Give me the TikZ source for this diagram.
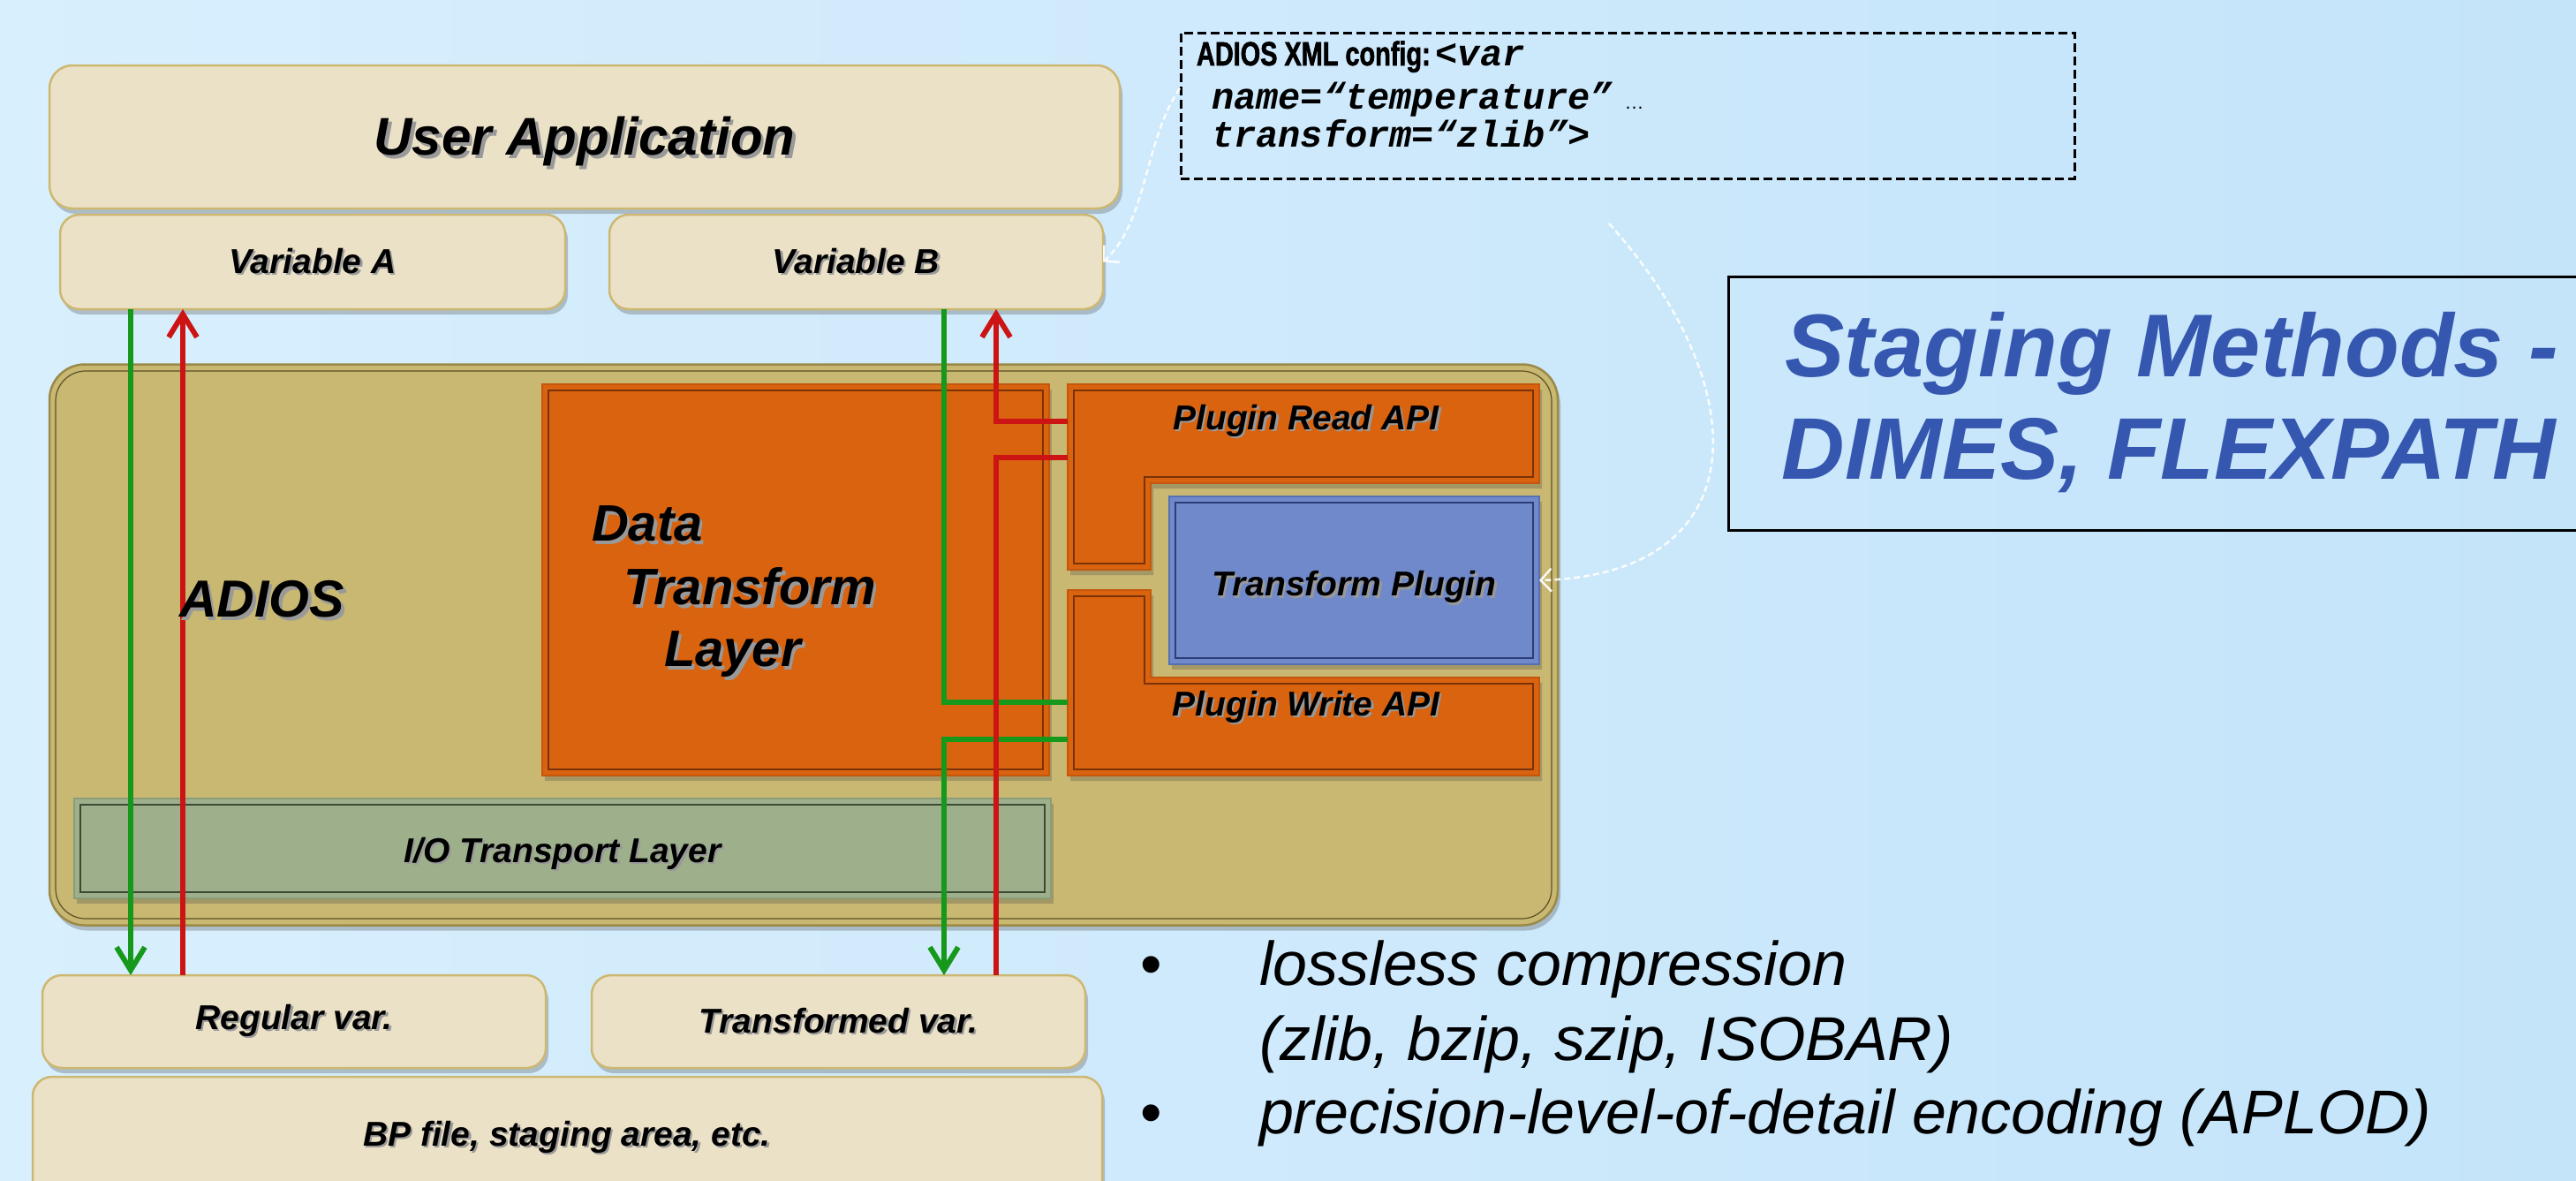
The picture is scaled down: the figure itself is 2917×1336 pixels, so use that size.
\documentclass[tikz,border=0pt]{standalone}
\usepackage{fontspec}
\setmainfont{Liberation Sans}
\setmonofont{Liberation Mono}
\newfontfamily\narrowbold[FakeStretch=0.76, FakeBold=1.6]{Liberation Sans Bold}
\usetikzlibrary{shadows,arrows.meta,calc}

\definecolor{bgL}{HTML}{D8EFFD}
\definecolor{bgR}{HTML}{C4E4FA}
\definecolor{tanF}{HTML}{EBE1C7}
\definecolor{tanD}{HTML}{CDB872}
\definecolor{adF}{HTML}{C9B872}
\definecolor{adD}{HTML}{5A5025}
\definecolor{adO}{HTML}{9A8A48}
\definecolor{orF}{HTML}{D9630F}
\definecolor{orD}{HTML}{7A3206}
\definecolor{orO}{HTML}{C4570C}
\definecolor{blF}{HTML}{6F89CB}
\definecolor{blD}{HTML}{2C3E78}
\definecolor{blO}{HTML}{5570B0}
\definecolor{ioF}{HTML}{9DB08B}
\definecolor{ioD}{HTML}{3C4A32}
\definecolor{ioO}{HTML}{8A9C78}
\definecolor{grn}{HTML}{16991A}
\definecolor{rdc}{HTML}{CC1414}
\definecolor{stg}{HTML}{3557B0}

\newcommand\shd[1]{\makebox[0pt][l]{\hspace{0.06em}\raisebox{-0.07em}{\color{black!40}#1}}#1}
\newcommand\ftitle{\fontsize{60}{72}\selectfont\bfseries\itshape}
\newcommand\flbl{\fontsize{39}{47}\selectfont\bfseries\itshape}
\newcommand\fdtl{\fontsize{58}{70}\selectfont\bfseries\itshape}
\newcommand\fstg{\fontsize{101}{120}\selectfont\bfseries\itshape}
\newcommand\fbul{\fontsize{70}{84}\selectfont}
\newcommand\fmono{\fontsize{42}{50}\selectfont\ttfamily\bfseries\itshape}

\tikzset{
  shd/.style={drop shadow={shadow xshift=3pt, shadow yshift=-6pt, opacity=0.3, fill=black!70}},
  tanbox/.style={shd, draw=tanD, line width=2.5pt, fill=tanF, rounded corners=22pt, inner sep=0pt, outer sep=0pt},
  adbox/.style={shd, draw=adO, line width=2.5pt, fill=adF, rounded corners=40pt, inner sep=0pt, outer sep=0pt},
  orbox/.style={shd, draw=orO, line width=1.5pt, fill=orF, inner sep=0pt, outer sep=0pt},
  orin/.style={draw=orD, line width=1.6pt},
  blbox/.style={shd, draw=blO, line width=1.5pt, fill=blF, inner sep=0pt, outer sep=0pt},
  iobox/.style={shd, draw=ioO, line width=1.5pt, fill=ioF, inner sep=0pt, outer sep=0pt},
  ghost/.style={inner sep=0pt, outer sep=0pt},
  txt/.style={inner sep=0pt, outer sep=0pt},
  gline/.style={draw=grn, line width=6pt},
  rline/.style={draw=rdc, line width=6pt},
  tip/.style={-{Straight Barb[length=26pt,width=32pt]}},
  wcurve/.style={draw=white, opacity=0.9, line width=2.5pt, dash pattern=on 7pt off 4pt,
     -{Straight Barb[length=12pt,width=26pt,line width=2.5pt]}},
}

\begin{document}
\begin{tikzpicture}[x=1pt,y=-1pt]
\useasboundingbox (0,0) rectangle (2917,1336);
\clip (0,0) rectangle (2917,1336);
\shade[left color=bgL,right color=bgR] (0,0) rectangle (2917,1336);

% column positions of the flows
\coordinate (gA) at (148,0);
\coordinate (rA) at (207,0);
\coordinate (gB) at (1069,0);
\coordinate (rB) at (1128,0);

% ADIOS container
\node[adbox, minimum width=1708pt, minimum height=635pt] (adios) at (910,730) {};
\draw[adD, line width=1.2pt, rounded corners=34pt] (63,420) rectangle (1757,1040);

% Data Transform Layer
\node[orbox, minimum width=574pt, minimum height=443pt] (dtl) at (901,656.5) {};
\draw[orin] (621,442) rectangle (1181,871);

% Plugin Read API (L shape)
\path[orbox] (1209,435) -- (1743,435) -- (1743,547) -- (1303,547) -- (1303,645) -- (1209,645) -- cycle;
\draw[orin] (1216,442) -- (1736,442) -- (1736,540) -- (1296,540) -- (1296,638) -- (1216,638) -- cycle;
\node[ghost, minimum width=534pt, minimum height=112pt] (readapi) at (1476,491) {};

% Plugin Write API (L shape)
\path[orbox] (1209,668) -- (1303,668) -- (1303,767) -- (1743,767) -- (1743,878) -- (1209,878) -- cycle;
\draw[orin] (1216,675) -- (1296,675) -- (1296,774) -- (1736,774) -- (1736,871) -- (1216,871) -- cycle;
\node[ghost, minimum width=534pt, minimum height=111pt] (writeapi) at (1476,822.5) {};

% Transform Plugin
\node[blbox, minimum width=419pt, minimum height=190pt] (tplug) at (1533.5,657) {};
\draw[blD, line width=1.6pt] (1331,569) rectangle (1736,745);
\node[txt, font=\flbl] (tplugl) at ([yshift=-9pt]tplug.center) {\shd{Transform Plugin}};

% I/O Transport Layer
\node[iobox, minimum width=1106pt, minimum height=113pt] (io) at (637,960.5) {};
\draw[ioD, line width=1.4pt] (91,911) rectangle (1183,1010);
\node[txt, font=\flbl] (iol) at ([yshift=-7pt]io.center) {\shd{I/O Transport Layer}};

% tan boxes
\node[tanbox, rounded corners=26pt, minimum width=1212pt, minimum height=162pt] (app) at (662,155) {};
\node[txt, font=\ftitle] (appl) at ([yshift=-7pt]app.center) {\shd{User Application}};
\node[tanbox, minimum width=572pt, minimum height=107pt, font=\flbl] (vara) at (354,296.5) {\shd{Variable A}};
\node[tanbox, minimum width=559pt, minimum height=107pt, font=\flbl] (varb) at (969.5,296.5) {\shd{Variable B}};
\node[tanbox, minimum width=570pt, minimum height=105pt, font=\flbl] (regv) at (333,1156.5) {\shd{Regular var.}};
\node[tanbox, minimum width=559pt, minimum height=105pt, font=\flbl] (trv) at (949.5,1156.5) {\shd{Transformed var.}};
\node[tanbox, minimum width=1211pt, minimum height=170pt] (bp) at (642.5,1304) {};
\node[txt, font=\flbl, anchor=base] (bpl) at (642,1297) {\shd{BP file, staging area, etc.}};

% connectors
\draw[gline, tip] (vara.south -| gA) -- (regv.north -| gA);
\draw[rline, tip] (regv.north -| rA) -- (vara.south -| rA);
\draw[gline] (varb.south -| gB) |- ([yshift=27.5pt]writeapi.west);
\draw[gline, tip] ([yshift=-14.5pt]writeapi.west) -| (trv.north -| gB);
\draw[rline] (trv.north -| rB) |- ([yshift=-27pt]readapi.west);
\draw[rline, tip] ([yshift=14pt]readapi.west) -| (varb.south -| rB);

% labels inside the ADIOS area
\node[txt, font=\fontsize{59}{70}\selectfont\bfseries\itshape, anchor=base west] (adiosl) at (203,698) {\shd{ADIOS}};
\node[txt, font=\fdtl, anchor=base west] (dtl1) at (670,612) {\shd{Data}};
\node[txt, font=\fdtl, anchor=base west] (dtl2) at (706,684) {\shd{Transform}};
\node[txt, font=\fdtl, anchor=base west] (dtl3) at (752,754) {\shd{Layer}};
\node[txt, font=\flbl, anchor=base] (readl) at (1479,486) {\shd{Plugin Read API}};
\node[txt, font=\flbl, anchor=base] (writel) at (1479,810) {\shd{Plugin Write API}};

% XML config box
\node[draw=black, line width=3pt, dash pattern=on 10pt off 5pt, minimum width=1012pt, minimum height=165pt, inner sep=0pt] (xml) at (1843,119.5) {};
\node[txt, anchor=base west] (xml1) at (1355,74) {{\fontsize{38}{46}\selectfont\narrowbold ADIOS XML config:}\hspace{6pt}{\fmono <var}};
\node[txt, anchor=base west] (xml2) at (1372,123) {{\fmono name=“temperature”}\hspace{14pt}{\fontsize{22}{26}\selectfont …}};
\node[txt, anchor=base west] (xml3) at (1372,166) {\fmono transform=“zlib”>};

% white dashed pointers
\coordinate (c1s) at (1336,100);
\coordinate (c2s) at (1822,253);
\draw[wcurve] (c1s) .. controls (1295,160) and (1300,250) .. (varb.east);
\draw[wcurve] (c2s) .. controls (1990,440) and (1990,650) .. (tplug.east);

% staging methods box
\node[draw=black, line width=3pt, minimum width=1000pt, minimum height=287pt, inner sep=0pt] (stgbox) at (2457,456.5) {};
\node[txt, font=\fstg, text=stg, anchor=base] (stg1) at (2459,426) {Staging Methods -};
\node[txt, font=\fontsize{99}{120}\selectfont\bfseries\itshape, text=stg, anchor=base] (stg2) at (2456,542) {DIMES, FLEXPATH};

% bullets
\node[txt, font=\fbul, anchor=base west] (bul1) at (1291,1115) {•};
\node[txt, font=\fbul\itshape, anchor=base west] (b1) at (1426,1115) {lossless compression};
\node[txt, font=\fbul\itshape, anchor=base west] (b1b) at (1426,1200) {(zlib, bzip, szip, ISOBAR)};
\node[txt, font=\fbul, anchor=base west] (bul2) at (1291,1283) {•};
\node[txt, font=\fbul\itshape, anchor=base west] (b2) at (1426,1283) {precision-level-of-detail encoding (APLOD)};
\end{tikzpicture}
\end{document}
